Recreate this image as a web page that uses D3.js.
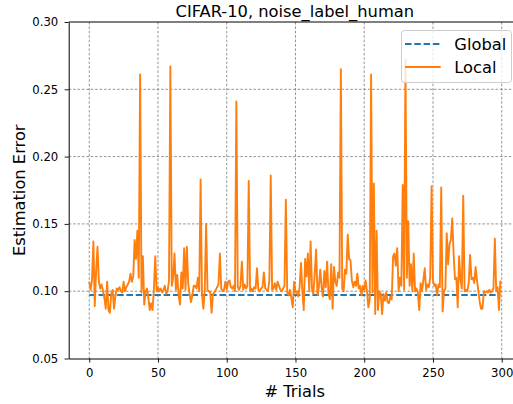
<!DOCTYPE html>
<html>
<head>
<meta charset="utf-8">
<script src="https://cdn.jsdelivr.net/npm/d3@7"></script>
<style>
  html, body { margin: 0; padding: 0; background: #fff; }
  svg { display: block; font-family: "DejaVu Sans", sans-serif; }
</style>
</head>
<body>
<svg id="chart" width="513" height="404"></svg>
<script>
const chartTitle = "CIFAR-10, noise_label_human";
const xLabel = "# Trials";
const yLabel = "Estimation Error";
const seriesNames = ["Global", "Local"];
const xTicks = [0, 50, 100, 150, 200, 250, 300];
const yTicks = [0.05, 0.10, 0.15, 0.20, 0.25, 0.30];

const globalTrials = [0, 299];
const globalError = [0.0972, 0.0972];

const localError = [
  0.107, 0.101, 0.108, 0.137, 0.089, 0.115, 0.133, 0.107, 0.102, 0.105,
  0.100, 0.095, 0.087, 0.107, 0.086, 0.084, 0.098, 0.101, 0.087, 0.096,
  0.102, 0.101, 0.103, 0.100, 0.099, 0.107, 0.100, 0.103, 0.105, 0.107,
  0.113, 0.107, 0.111, 0.138, 0.124, 0.145, 0.110, 0.261, 0.099, 0.126,
  0.090, 0.100, 0.102, 0.095, 0.086, 0.091, 0.086, 0.101, 0.126, 0.100,
  0.103, 0.100, 0.102, 0.099, 0.101, 0.104, 0.098, 0.100, 0.108, 0.267,
  0.104, 0.110, 0.128, 0.101, 0.112, 0.097, 0.090, 0.114, 0.102, 0.132,
  0.101, 0.133, 0.105, 0.098, 0.092, 0.097, 0.104, 0.104, 0.102, 0.110,
  0.100, 0.183, 0.098, 0.087, 0.101, 0.150, 0.101, 0.100, 0.099, 0.084,
  0.098, 0.099, 0.101, 0.103, 0.105, 0.128, 0.102, 0.100, 0.101, 0.107,
  0.101, 0.107, 0.108, 0.103, 0.102, 0.104, 0.100, 0.241, 0.103, 0.101,
  0.104, 0.122, 0.101, 0.105, 0.102, 0.104, 0.182, 0.100, 0.102, 0.100,
  0.103, 0.102, 0.117, 0.101, 0.100, 0.102, 0.103, 0.114, 0.102, 0.101,
  0.100, 0.108, 0.186, 0.101, 0.102, 0.106, 0.101, 0.107, 0.104, 0.101,
  0.100, 0.102, 0.104, 0.168, 0.099, 0.097, 0.101, 0.095, 0.088, 0.107,
  0.099, 0.100, 0.096, 0.103, 0.121, 0.100, 0.086, 0.124, 0.111, 0.128,
  0.100, 0.137, 0.102, 0.098, 0.113, 0.131, 0.097, 0.103, 0.116, 0.103,
  0.096, 0.115, 0.103, 0.122, 0.098, 0.094, 0.120, 0.087, 0.118, 0.107,
  0.104, 0.114, 0.110, 0.265, 0.102, 0.100, 0.116, 0.113, 0.142, 0.124,
  0.123, 0.108, 0.103, 0.107, 0.104, 0.113, 0.102, 0.104, 0.097, 0.104,
  0.101, 0.108, 0.100, 0.088, 0.094, 0.261, 0.099, 0.180, 0.083, 0.145,
  0.086, 0.100, 0.098, 0.083, 0.098, 0.093, 0.099, 0.092, 0.091, 0.096,
  0.094, 0.126, 0.128, 0.119, 0.132, 0.100, 0.110, 0.104, 0.179, 0.101,
  0.272, 0.110, 0.152, 0.104, 0.120, 0.100, 0.128, 0.100, 0.102, 0.099,
  0.086, 0.106, 0.100, 0.108, 0.117, 0.101, 0.105, 0.103, 0.110, 0.178,
  0.108, 0.104, 0.105, 0.097, 0.105, 0.103, 0.177, 0.085, 0.100, 0.102,
  0.143, 0.120, 0.135, 0.138, 0.154, 0.128, 0.109, 0.110, 0.088, 0.126,
  0.109, 0.102, 0.171, 0.100, 0.101, 0.100, 0.106, 0.127, 0.109, 0.110,
  0.106, 0.118, 0.108, 0.100, 0.092, 0.087, 0.087, 0.100, 0.099, 0.100,
  0.099, 0.101, 0.099, 0.100, 0.102, 0.139, 0.100, 0.103, 0.086, 0.108
];
const localTrials = localError.map((d, i) => i);

const colors = { Global: "#1f77b4", Local: "#ff7f0e" };

const svg = d3.select("#chart");
const plotLeft = 68.7, plotRight = 520.9, plotTop = 22, plotBottom = 358.5;

const x = d3.scaleLinear().domain([-14.95, 313.95]).range([plotLeft, plotRight]);
const y = d3.scaleLinear().domain([0.05, 0.30]).range([plotBottom, plotTop]);

// grid
const grid = svg.append("g");
grid.selectAll("line.vg").data(xTicks).join("line")
  .attr("x1", d => x(d)).attr("x2", d => x(d))
  .attr("y1", plotTop).attr("y2", plotBottom)
  .attr("stroke", "#7a7a7a").attr("stroke-width", 0.8)
  .attr("stroke-dasharray", "2.6,1.8");
grid.selectAll("line.hg").data(yTicks.filter(d => d > 0.05 && d < 0.30)).join("line")
  .attr("x1", plotLeft).attr("x2", plotRight)
  .attr("y1", d => y(d)).attr("y2", d => y(d))
  .attr("stroke", "#7a7a7a").attr("stroke-width", 0.8)
  .attr("stroke-dasharray", "2.6,1.8");

// global line
const gLine = d3.line().x((d, i) => x(globalTrials[i])).y(d => y(d));
svg.append("path").datum(globalError)
  .attr("d", gLine)
  .attr("fill", "none").attr("stroke", colors.Global)
  .attr("stroke-width", 1.9).attr("stroke-dasharray", "6.5,2.8");

// local line
const lLine = d3.line().x((d, i) => x(localTrials[i])).y(d => y(d));
svg.append("path").datum(localError)
  .attr("d", lLine)
  .attr("fill", "none").attr("stroke", colors.Local)
  .attr("stroke-width", 1.9).attr("stroke-linejoin", "round");

// axes
const xAxis = d3.axisBottom(x).tickValues(xTicks).tickFormat(d3.format("d"))
  .tickSize(4.1).tickSizeOuter(0).tickPadding(6.5);
const gx = svg.append("g").attr("transform", `translate(0,${plotBottom})`).call(xAxis);
gx.selectAll("text").attr("font-size", "11.7px").attr("fill", "#000").attr("font-family", "DejaVu Sans");
gx.selectAll("line").attr("stroke", "#000").attr("stroke-width", 0.9);
gx.select(".domain").attr("stroke", "#000").attr("stroke-width", 1);

const yAxis = d3.axisLeft(y).tickValues(yTicks).tickFormat(d3.format(".2f"))
  .tickSize(4.1).tickSizeOuter(0).tickPadding(6.3);
const gy = svg.append("g").attr("transform", `translate(${plotLeft},0)`).call(yAxis);
gy.selectAll("text").attr("font-size", "11.7px").attr("fill", "#000").attr("font-family", "DejaVu Sans");
gy.selectAll("line").attr("stroke", "#000").attr("stroke-width", 0.9);
gy.select(".domain").attr("stroke", "#000").attr("stroke-width", 1);

// top & right spines
svg.append("line").attr("x1", plotLeft).attr("x2", plotRight).attr("y1", plotTop).attr("y2", plotTop)
  .attr("stroke", "#000").attr("stroke-width", 1);
svg.append("line").attr("x1", plotRight).attr("x2", plotRight).attr("y1", plotTop).attr("y2", plotBottom)
  .attr("stroke", "#000").attr("stroke-width", 1);

// title and labels
svg.append("text").attr("x", (plotLeft + plotRight) / 2).attr("y", 17)
  .attr("text-anchor", "middle").attr("font-size", "16.3px").attr("fill", "#000")
  .text(chartTitle);
svg.append("text").attr("x", (plotLeft + plotRight) / 2).attr("y", 396.5)
  .attr("text-anchor", "middle").attr("font-size", "16.3px").attr("fill", "#000")
  .text(xLabel);
svg.append("text").attr("transform", `translate(25,${(plotTop + plotBottom) / 2}) rotate(-90)`)
  .attr("text-anchor", "middle").attr("font-size", "16.3px").attr("fill", "#000")
  .text(yLabel);

// legend
const lg = svg.append("g");
lg.append("rect").attr("x", 401.5).attr("y", 30.5).attr("width", 110).attr("height", 52)
  .attr("rx", 3).attr("fill", "#fff").attr("fill-opacity", 0.8)
  .attr("stroke", "#cccccc").attr("stroke-width", 1);
seriesNames.forEach((name, i) => {
  const cy = 44 + i * 23;
  lg.append("line").attr("x1", 405).attr("x2", 440.7).attr("y1", cy).attr("y2", cy)
    .attr("stroke", colors[name]).attr("stroke-width", 1.9)
    .attr("stroke-dasharray", name === "Global" ? "6.5,2.8" : null);
  lg.append("text").attr("x", 454.3).attr("y", cy + 6).attr("font-size", "16.3px")
    .attr("fill", "#000").text(name);
});
</script>
</body>
</html>
